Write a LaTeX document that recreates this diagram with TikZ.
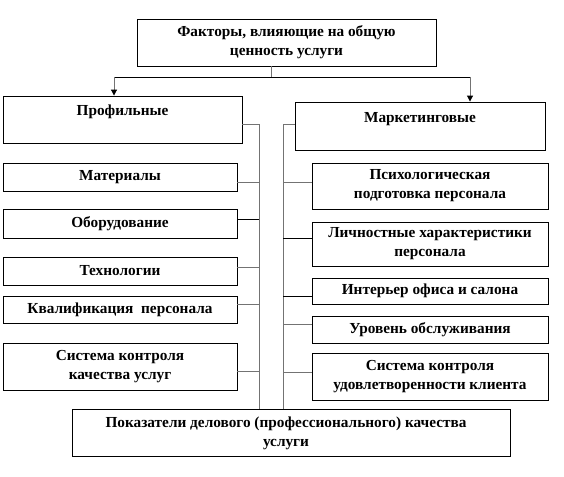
\documentclass[tikz,border=0pt]{standalone}
\usepackage{fontspec}
\setmainfont{Liberation Serif}
\usetikzlibrary{arrows.meta}
\begin{document}
\begin{tikzpicture}[x=1pt,y=-1pt,
  boxst/.style={draw=black,line width=0.9pt},
  txt/.style={font=\fontsize{15.3}{19}\selectfont\bfseries,align=center,inner sep=0pt},
  gline/.style={draw=black!55,line width=1pt},
  bline/.style={draw=black,line width=0.9pt},
  arr/.style={-{Triangle[length=6pt,width=6pt,black]}}]
\useasboundingbox (0,0) rectangle (564,476);
% boxes
\node[boxst,minimum width=299pt,minimum height=47pt,inner sep=0pt] (top) at (286.5,42.5) {};
\node[txt] (toptxt) at (286.5,42.5) {Факторы, влияющие на общую\\ценность услуги};
\node[boxst,minimum width=239pt,minimum height=47pt,inner sep=0pt] (prof) at (122.5,119.5) {};
\node[txt] (proftxt) at (122.5,111.5) {Профильные};
\node[boxst,minimum width=250pt,minimum height=48pt,inner sep=0pt] (mark) at (420,126) {};
\node[txt] (marktxt) at (420,119) {Маркетинговые};
% left boxes
\tikzset{lbox/.style={boxst,minimum width=234pt,inner sep=0pt,txt}}
\node[lbox,minimum height=28pt] (mat) at (120,177) {Материалы};
\node[lbox,minimum height=29pt] (obo) at (120,223.5) {Оборудование};
\node[lbox,minimum height=28pt] (tech) at (120,271) {Технологии};
\node[lbox,minimum height=27pt] (kval) at (120,309.5) {Квалификация\ \ персонала};
\node[lbox,minimum height=47pt] (sys1) at (120,366.5) {Система контроля\\качества услуг};
% right boxes
\tikzset{rbox/.style={boxst,minimum width=236pt,inner sep=0pt,txt}}
\node[rbox,minimum height=46pt] (psy) at (430,186) {Психологическая\\подготовка персонала};
\node[rbox,minimum height=44pt] (lich) at (430,244) {Личностные характеристики\\персонала};
\node[rbox,minimum height=26pt] (int) at (430,291) {Интерьер офиса и салона};
\node[rbox,minimum height=27pt] (ur) at (430,329.5) {Уровень обслуживания};
\node[rbox,minimum height=47pt] (sys2) at (430,376.5) {Система контроля\\удовлетворенности клиента};
% bottom
\node[boxst,minimum width=438pt,minimum height=47pt,inner sep=0pt] (bot) at (291,432.5) {};
\node[txt] (bottxt) at (286,433) {Показатели делового (профессионального) качества\\услуги};
% coordinates
\coordinate (j) at (271,77);
\coordinate (jl) at (114,77);
\coordinate (jr) at (470,77);
\coordinate (vl) at (259,124);
\coordinate (vr) at (283,124);
% top connectors
\draw[gline] (top.south -| j) -- (j);
\draw[bline] (jl) -- (jr);
\draw[gline,arr] (jl) -- (prof.north -| jl);
\draw[gline,arr] (jr) -- (mark.north -| jr);
% spines
\draw[gline] (prof.east |- vl) -- (vl) -- (bot.north -| vl);
\draw[gline] (mark.west |- vr) -- (vr) -- (bot.north -| vr);
% left connectors
\draw[gline] (mat.east |- 0,182) -- (vl |- 0,182);
\draw[bline] (obo.east |- 0,219) -- (vl |- 0,219);
\draw[gline] (tech.east |- 0,267) -- (vl |- 0,267);
\draw[gline] (kval.east |- 0,304) -- (vl |- 0,304);
\draw[gline] (sys1.east |- 0,371) -- (vl |- 0,371);
% right connectors
\draw[gline] (vr |- 0,182) -- (psy.west |- 0,182);
\draw[bline] (vr |- 0,238) -- (lich.west |- 0,238);
\draw[bline] (vr |- 0,296) -- (int.west |- 0,296);
\draw[gline] (vr |- 0,324) -- (ur.west |- 0,324);
\draw[gline] (vr |- 0,372) -- (sys2.west |- 0,372);
\end{tikzpicture}
\end{document}
